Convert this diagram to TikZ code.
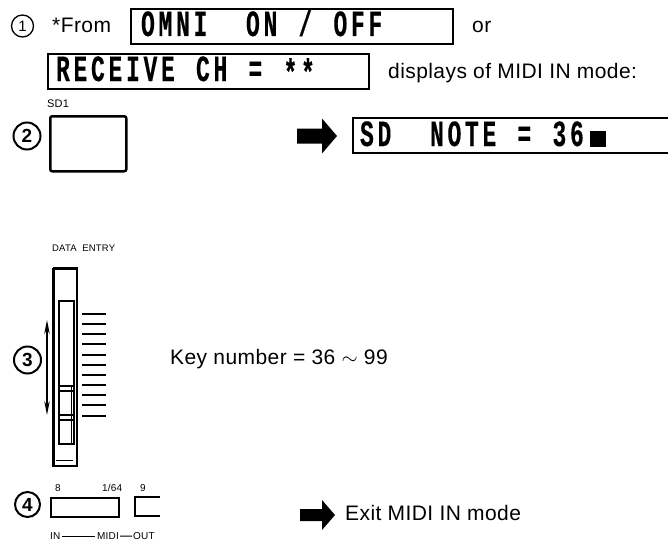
\documentclass[tikz,border=0pt]{standalone}
\usepackage{fontspec}
\setmainfont{Liberation Sans}[LetterSpace=2]
\newfontfamily\lcdfont{Liberation Mono}[FakeStretch=0.62, FakeBold=0.3]
\usetikzlibrary{arrows.meta}
\newcommand\lc[1]{\makebox[17.5pt][c]{#1}}
\newcommand\lsp{\makebox[17.5pt]{}}
\begin{document}
\begin{tikzpicture}[x=1pt,y=-1pt,
  lcdbox/.style={draw, line width=1.8pt, inner sep=0pt, anchor=north west},
  lcdtxt/.style={inner sep=0pt, anchor=base west, font=\lcdfont\bfseries\fontsize{37}{37}\selectfont},
  lbl/.style={inner sep=0pt, anchor=base west, font=\fontsize{21}{21}\selectfont},
  small/.style={inner sep=0pt, anchor=base west, font=\fontsize{10}{10}\selectfont},
  num/.style={draw, circle, line width=2pt, minimum size=27pt, inner sep=0pt, font=\bfseries\fontsize{19}{19}\selectfont},
  tick/.style={line width=1.6pt},
  part/.style={line width=1.5pt}
]
\fill[white] (0,0) rectangle (668,543);
\useasboundingbox (0,0) rectangle (668,543);

% ---- row 1
\node[draw, circle, line width=1.3pt, minimum size=22pt, inner sep=0pt, font=\fontsize{15}{15}\selectfont] (n1) at (22.5,26) {1};
\node[lbl] (from) at (52,33) {*From};
\node[lcdbox, minimum width=322pt, minimum height=35pt] (omnibox) at (130,8) {};
\node[lcdtxt] (omni) at (139,36) {\lc{O}\lc{M}\lc{N}\lc{I}\lsp\lsp\lc{O}\lc{N}\lsp\lc{/}\lsp\lc{O}\lc{F}\lc{F}};
\node[lbl] (or) at (472,33) {or};

% ---- row 2
\node[lcdbox, minimum width=321pt, minimum height=35pt] (recbox) at (47,53) {};
\node[lcdtxt] (rec) at (54,81) {\lc{R}\lc{E}\lc{C}\lc{E}\lc{I}\lc{V}\lc{E}\lsp\lc{C}\lc{H}\lsp\lc{=}\lsp\lc{\raisebox{-4pt}{*}}\lc{\raisebox{-4pt}{*}}};
\node[lbl] (disp) at (388,78) {displays of MIDI IN mode:};

% ---- row 3
\node[small, font=\fontsize{11}{11}\selectfont] (sdlbl) at (47,107) {SD1};
\node[draw, line width=2.5pt, rounded corners=2pt, minimum width=76pt, minimum height=55pt, inner sep=0pt, anchor=north west] (sd1) at (49,115) {};
\node[num] (n2) at (27,136) {2};
\coordinate (a1) at (297,136);
\fill (a1) ++(0,-7.5) -- ++(25,0) -- ++(0,-10) -- ++(15,17.5) -- ++(-15,17.5) -- ++(0,-10) -- ++(-25,0) -- cycle;
\coordinate (sdtl) at (353,118);
\coordinate (sdbl) at (353,153);
\coordinate (sdtr) at (672,118);
\coordinate (sdbr) at (672,153);
\draw[line width=1.8pt] (sdtr) -- (sdtl) -- (sdbl) -- (sdbr);
\node[lcdtxt] (sdnote) at (358,146) {\lc{S}\lc{D}\lsp\lsp\lc{N}\lc{O}\lc{T}\lc{E}\lsp\lc{=}\lsp\lc{3}\lc{6}};
\node[fill, minimum width=16pt, minimum height=16pt, inner sep=0pt, anchor=north west] (cursor) at (590,131) {};

% ---- row 3: data entry slider
\node[small, font=\fontsize{9.5}{9.5}\selectfont, anchor=west] (de) at (52,248) {DATA\ \ ENTRY};
\node[draw, line width=2pt, minimum width=23pt, minimum height=197pt, inner sep=0pt, anchor=north west] (outer) at (53,268) {};
\draw[line width=3pt] (outer.north west) -- (outer.south west);
\draw[line width=3pt] (outer.north west) -- (outer.north east);
\draw[line width=0.8pt] (56,460) -- (73,460);
\node[draw, line width=1.5pt, minimum width=15pt, minimum height=143pt, inner sep=0pt, anchor=north west] (slot) at (58,300) {};
\draw[line width=1pt] (59.5,300) -- (59.5,443);
\draw[part] (58,386) -- (73,386);
\draw[part] (58,391) -- (73,391);
\draw[part] (58,415) -- (73,415);
\draw[part] (58,420) -- (73,420);
\draw[line width=1pt] (71.5,386) -- (71.5,443);
\foreach \ty in {314,324,334,344,355,365,375,385,395,405,416} {
  \draw[tick] (82,\ty) -- (106,\ty);
}
\coordinate (arrtop) at (47,320);
\coordinate (arrbot) at (47,415);
\draw[line width=1.2pt, {Stealth[length=14pt,width=5.5pt]}-{Stealth[length=14pt,width=5.5pt]}] (arrtop) -- (arrbot);
\node[num] (n3) at (27.5,360) {3};
\node[lbl] (key) at (170,364) {Key number = 36 $\sim$ 99};

% ---- row 4
\node[num, minimum size=25pt] (n4) at (27.5,504.5) {4};
\node[small] (l8) at (55,491.5) {8};
\node[small] (l164) at (102,491.5) {1/64};
\node[small] (l9) at (140,491.5) {9};
\node[draw, line width=1.8pt, minimum width=68pt, minimum height=19pt, inner sep=0pt, anchor=north west] (b8) at (50,497) {};
\coordinate (b9tr) at (160,497);
\coordinate (b9tl) at (135,497);
\coordinate (b9bl) at (135,516);
\coordinate (b9br) at (160,516);
\draw[line width=1.8pt] (b9tr) -- (b9tl) -- (b9bl) -- (b9br);
\node[small] (in) at (50,539.5) {IN};
\node[small] (midi) at (97,539.5) {MIDI};
\node[small] (out) at (133,539.5) {OUT};
\draw[line width=1pt, shorten <=1pt, shorten >=2pt] (in.east) -- (midi.west);
\draw[line width=1pt, shorten <=1pt, shorten >=1pt] (midi.east) -- (out.west);
\coordinate (a2) at (300,515);
\fill (a2) ++(0,-6) -- ++(22,0) -- ++(0,-9) -- ++(13,15) -- ++(-13,15) -- ++(0,-9) -- ++(-22,0) -- cycle;
\node[lbl] (exit) at (345,520) {Exit MIDI IN mode};
\end{tikzpicture}
\end{document}
